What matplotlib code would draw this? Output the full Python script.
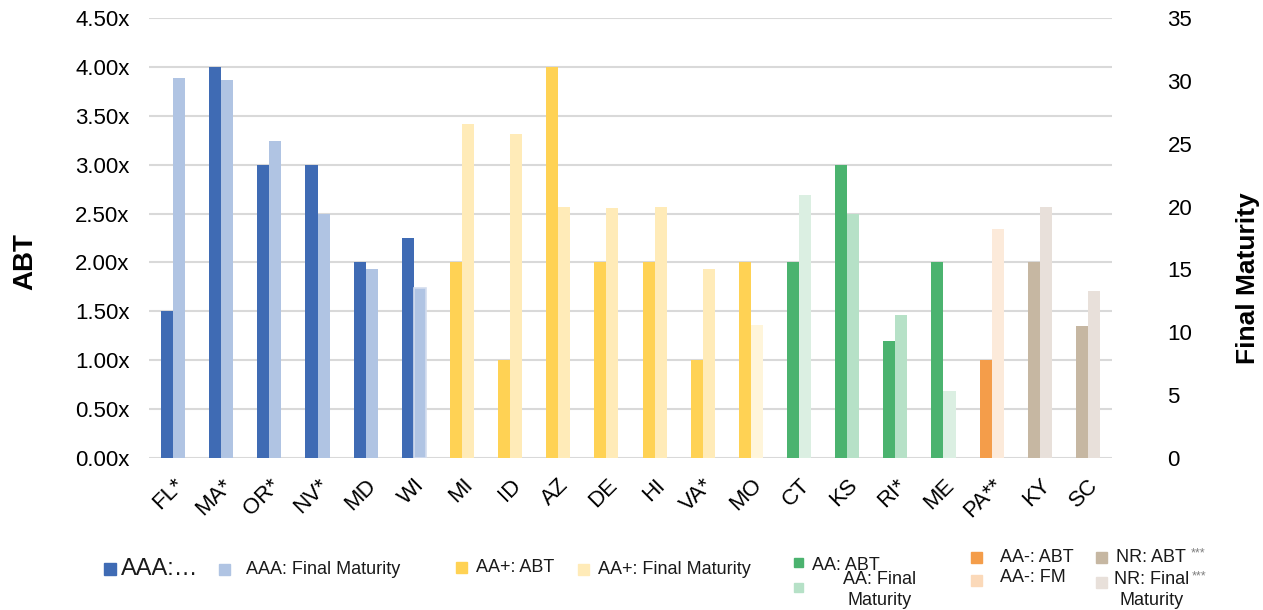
import matplotlib
matplotlib.use("Agg")
from matplotlib import pyplot as plt
from matplotlib.patches import Rectangle
from matplotlib.ticker import FuncFormatter, MultipleLocator

plt.rcParams["font.family"] = ["Liberation Sans", "DejaVu Sans"]

W, H = 1263, 610

states = ["FL*", "MA*", "OR*", "NV*", "MD", "WI", "MI", "ID", "AZ", "DE",
          "HI", "VA*", "MO", "CT", "KS", "RI*", "ME", "PA**", "KY", "SC"]
ratings = ["AAA"] * 6 + ["AA+"] * 7 + ["AA"] * 4 + ["AA-"] + ["NR"] * 2
abt = [1.5, 4.0, 3.0, 3.0, 2.0, 2.25, 2.0, 1.0, 4.0, 2.0,
       2.0, 1.0, 2.0, 2.0, 3.0, 1.2, 2.0, 1.0, 2.0, 1.35]
final_maturity = [30.2, 30.1, 25.2, 19.4, 15.0, 13.5, 26.6, 25.8, 20.0, 19.9,
                  20.0, 15.0, 10.6, 20.9, 19.4, 11.4, 5.3, 18.2, 20.0, 13.3]

abt_colors = {"AAA": "#3F6BB4", "AA+": "#FFD254", "AA": "#4BB36F",
              "AA-": "#F49D4A", "NR": "#C6B7A2"}
fm_colors = {"AAA": "#B0C4E3", "AA+": "#FFEBB8", "AA": "#B6E1C7",
             "AA-": "#FCEADA", "NR": "#E8E0DA"}
# a few maturity bars are drawn in a paler tint
fm_pale = {"MO": "#FFF5DA", "CT": "#DBEFE2", "ME": "#DBEFE2"}

fig = plt.figure(figsize=(W / 100, H / 100), dpi=100)
ax = fig.add_axes([149 / W, 1 - 458 / H, (1112 - 149) / W, (458 - 18) / H])
ax2 = ax.twinx()

x = list(range(len(states)))
bw = 0.25
ax.bar([i - bw / 2 for i in x], abt, width=bw,
       color=[abt_colors[r] for r in ratings], zorder=3)
fm_cols = [fm_pale.get(s, fm_colors[r]) for s, r in zip(states, ratings)]
bars = ax2.bar([i + bw / 2 for i in x], final_maturity, width=bw,
               color=fm_cols, zorder=3)
bars[5].set_edgecolor("#D3DDEE")
bars[5].set_linewidth(1.2)

ax.set_xlim(-0.5, len(states) - 0.5)
ax.set_ylim(0, 4.5)
ax2.set_ylim(0, 35)
ax.yaxis.set_major_locator(MultipleLocator(0.5))
ax2.yaxis.set_major_locator(MultipleLocator(5))
ax.yaxis.set_major_formatter(FuncFormatter(lambda v, p: f"{v:.2f}x"))

ax.set_axisbelow(True)
ax.grid(axis="y", color="#D9D9D9", linewidth=1.5, zorder=0)
for a in (ax, ax2):
    for sp in a.spines.values():
        sp.set_visible(False)
    a.tick_params(length=0, labelsize=16, colors="#000000")
ax.tick_params(axis="y", pad=14)
ax2.tick_params(axis="y", pad=40)

ax.set_xticks(x)
ax.set_xticklabels(states, rotation=45, ha="right", va="top",
                   rotation_mode="anchor")
ax.tick_params(axis="x", pad=12)

fig.text(25 / W, 1 - 262 / H, "ABT", rotation=90, fontsize=20,
         fontweight="bold", ha="center", va="center")
fig.text(1248 / W, 1 - 278 / H, "Final Maturity", rotation=90, fontsize=19,
         fontweight="bold", ha="center", va="center")


def legend_box(px, py, size, color):
    fig.add_artist(Rectangle((px / W, 1 - (py + size) / H), size / W, size / H,
                             transform=fig.transFigure, color=color))


def legend_text(px, py, s, size=13, ha="left", color="#1A1A1A"):
    fig.text(px / W, 1 - py / H, s, fontsize=size, ha=ha, va="center",
             color=color, linespacing=1.25)


legend_box(104, 563, 12, abt_colors["AAA"])
legend_text(121, 569, "AAA:…", size=17)
legend_box(219, 564, 11, fm_colors["AAA"])
legend_text(246, 569, "AAA: Final Maturity")
legend_box(456, 562, 11, abt_colors["AA+"])
legend_text(476, 568, "AA+: ABT")
legend_box(578, 564, 11, fm_colors["AA+"])
legend_text(598, 570, "AA+: Final Maturity")

legend_box(794, 558, 9, abt_colors["AA"])
legend_text(812, 565, "AA: ABT")
legend_box(794, 583, 9, fm_colors["AA"])
legend_text(880, 590, "AA: Final\nMaturity", ha="center")

legend_box(971, 552, 11, abt_colors["AA-"])
legend_text(1000, 558, "AA-: ABT")
legend_box(971, 575, 11, "#FBD9B9")
legend_text(1000, 578, "AA-: FM")

legend_box(1096, 552, 11, abt_colors["NR"])
legend_text(1116, 557, "NR: ABT")
legend_text(1191, 553, "***", size=9, color="#7F7F7F")
legend_box(1096, 577, 11, fm_colors["NR"])
legend_text(1152, 590, "NR: Final\nMaturity", ha="center")
legend_text(1192, 576, "***", size=9, color="#7F7F7F")

fig.savefig("out.png", dpi=100)
